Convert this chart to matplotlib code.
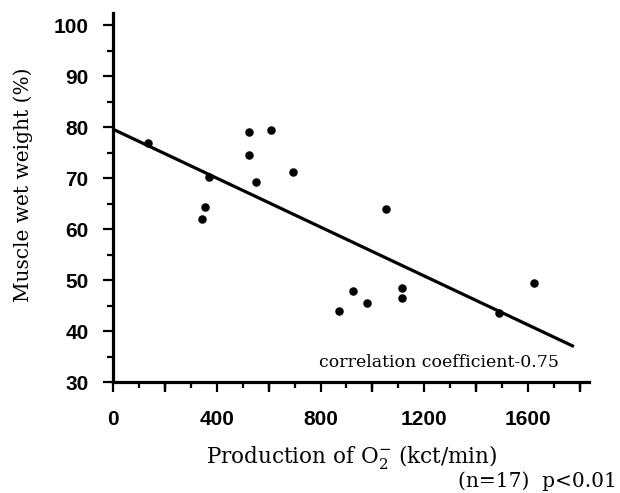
import numpy as np
import matplotlib
matplotlib.use('Agg')
import matplotlib.pyplot as plt
from matplotlib.ticker import MultipleLocator

# valores (produção de O2- vs peso úmido do músculo)
production = [135, 371, 355, 344, 525, 525, 552, 610, 695,
              1054, 927, 873, 981, 1116, 1116, 1487, 1622]
wet_weight = [76.9, 70.2, 64.3, 62.0, 79.0, 74.5, 69.2, 79.4, 71.2,
              63.9, 47.8, 44.0, 45.5, 48.4, 46.4, 43.5, 49.4]

# reta de regressão
intercept = 79.6
slope = -0.024
line_end = 1777

x_major = [0, 400, 800, 1200, 1600]
y_major = [30, 40, 50, 60, 70, 80, 90, 100]

plt.rcParams['mathtext.fontset'] = 'dejavuserif'

fig = plt.figure(figsize=(6.2, 4.93), dpi=100)
ax = fig.add_axes([113 / 620, 1 - 382 / 493, 476 / 620, 369 / 493])

ax.scatter(production, wet_weight, s=26, color='black', zorder=3)
xl = np.array([0, line_end])
ax.plot(xl, intercept + slope * xl, color='black', lw=2.3, solid_capstyle='butt')

ax.set_xlim(0, 1835)
ax.set_ylim(30, 102.4)

for s in ['top', 'right']:
    ax.spines[s].set_visible(False)
for s in ['left', 'bottom']:
    ax.spines[s].set_linewidth(2.3)

ax.set_xticks(x_major)
ax.xaxis.set_minor_locator(MultipleLocator(100))
ax.set_yticks(y_major)
ax.yaxis.set_minor_locator(MultipleLocator(5))

# ticks maiores a cada 200 no eixo x
ax.tick_params(axis='x', which='major', length=7.5, width=1.6, pad=13)
ax.tick_params(axis='x', which='minor', length=4, width=1.6)
ax.tick_params(axis='y', which='major', length=7.5, width=1.6, pad=10)
ax.tick_params(axis='y', which='minor', length=4.5, width=1.6)
for x in range(200, 1801, 400):
    ax.plot([x, x], [30, 30], marker=3, markersize=7.5, mew=1.6, color='black', clip_on=False)

for lab in ax.get_xticklabels() + ax.get_yticklabels():
    lab.set_fontfamily('Liberation Sans')
    lab.set_fontweight('bold')
    lab.set_fontsize(15)

ax.set_xlabel('Production of O$_2^{-}$ (kct/min)', family='DejaVu Serif', fontsize=15.5)
ax.xaxis.set_label_coords(0.502, -0.165)
ax.set_ylabel('Muscle wet weight (%)', family='DejaVu Serif', fontsize=14.5)
ax.yaxis.set_label_coords(-0.168, 0.534)

ax.text(1255, 33.9, 'correlation coefficient-0.75', family='DejaVu Serif',
        fontsize=12.5, ha='center', va='center')
fig.text(617 / 620, 1 - 481 / 493, '(n=17)  p<0.01', family='DejaVu Serif',
         fontsize=14.5, ha='right', va='center')

fig.savefig('out.png', dpi=100)
